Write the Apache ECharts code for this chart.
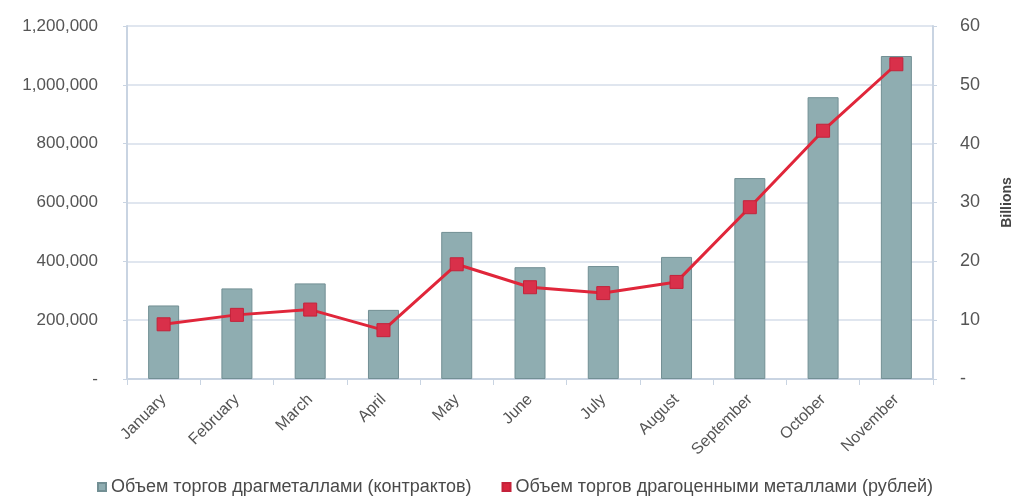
<!DOCTYPE html>
<html>
<head>
<meta charset="utf-8">
<script src="https://cdn.jsdelivr.net/npm/echarts@6/dist/echarts.min.js"></script>
<style>
  html, body { margin: 0; padding: 0; background: #fff; }
  #main { width: 1016px; height: 498px; }
</style>
</head>
<body>
<div id="main"></div>
<script>
// months
var months = ['January', 'February', 'March', 'April', 'May', 'June', 'July', 'August', 'September', 'October', 'November'];
// contracts (left axis)
var contracts = [250000, 308000, 325000, 235000, 500000, 380000, 384000, 415000, 683000, 958000, 1098000];
// rubles, billions (right axis)
var rubles = [9.3, 10.9, 11.8, 8.3, 19.5, 15.6, 14.6, 16.5, 29.2, 42.2, 53.5];

var leftTicks = [0, 200000, 400000, 600000, 800000, 1000000, 1200000];
var rightTicks = [0, 10, 20, 30, 40, 50, 60];

var seriesNames = ['Объем торгов драгметаллами (контрактов)', 'Объем торгов драгоценными металлами (рублей)'];

var chart = echarts.init(document.getElementById('main'));

var axisColor = '#c9d4e2';
var textColor = '#555';
var font = 'Liberation Sans, Arial, sans-serif';

var option = {
    animation: false,
    textStyle: { fontFamily: font },
    grid: { left: 127, right: 83, top: 26, bottom: 119, containLabel: false, outerBoundsMode: 'none' },
    legend: {
        left: 92,
        top: 473,
        itemGap: 30,
        itemWidth: 8,
        itemHeight: 8,
        textStyle: { color: '#4a4a4a', fontSize: 18, fontFamily: font },
        data: [
            { name: seriesNames[0], icon: 'rect', itemStyle: { color: '#8fadb1' } },
            { name: seriesNames[1], icon: 'rect', itemStyle: { color: '#d9253d' } }
        ]
    },
    xAxis: {
        type: 'category',
        data: months,
        axisLine: { lineStyle: { color: axisColor, width: 2 } },
        axisTick: { show: true, length: 6, lineStyle: { color: axisColor } },
        axisLabel: {
            rotate: 45,
            color: textColor,
            fontSize: 16,
            margin: 18
        }
    },
    yAxis: [
        {
            type: 'value',
            min: 0,
            max: leftTicks[leftTicks.length - 1],
            interval: leftTicks[1] - leftTicks[0],
            axisLine: { show: true, lineStyle: { color: axisColor, width: 2 } },
            axisTick: { show: true, length: 4, lineStyle: { color: axisColor } },
            splitLine: { lineStyle: { color: '#d6deea', width: 1.5 } },
            axisLabel: {
                color: textColor,
                fontSize: 17,
                margin: 29,
                formatter: function (v) {
                    if (v === 0) return '-';
                    return v.toString().replace(/\B(?=(\d{3})+(?!\d))/g, ',');
                }
            }
        },
        {
            type: 'value',
            min: 0,
            max: rightTicks[rightTicks.length - 1],
            interval: rightTicks[1] - rightTicks[0],
            name: 'Billions',
            nameLocation: 'middle',
            nameRotate: 90,
            nameGap: 67,
            nameTextStyle: { color: '#444', fontSize: 14, fontWeight: 'bold' },
            axisLine: { show: true, lineStyle: { color: axisColor, width: 2 } },
            axisTick: { show: true, length: 4, lineStyle: { color: axisColor } },
            splitLine: { show: false },
            axisLabel: {
                color: textColor,
                fontSize: 18,
                margin: 27,
                formatter: function (v) {
                    return v === 0 ? '-' : String(v);
                }
            }
        }
    ],
    series: [
        {
            name: seriesNames[0],
            type: 'bar',
            yAxisIndex: 0,
            barWidth: 31,
            data: contracts,
            itemStyle: { color: '#8fadb1', borderColor: '#728f94', borderWidth: 1 }
        },
        {
            name: seriesNames[1],
            type: 'line',
            yAxisIndex: 1,
            data: rubles,
            symbol: 'rect',
            symbolSize: 13,
            lineStyle: { color: '#e0263a', width: 3 },
            itemStyle: { color: '#d9304a', borderColor: '#c4223a', borderWidth: 1 }
        }
    ]
};

chart.setOption(option);
</script>
</body>
</html>
